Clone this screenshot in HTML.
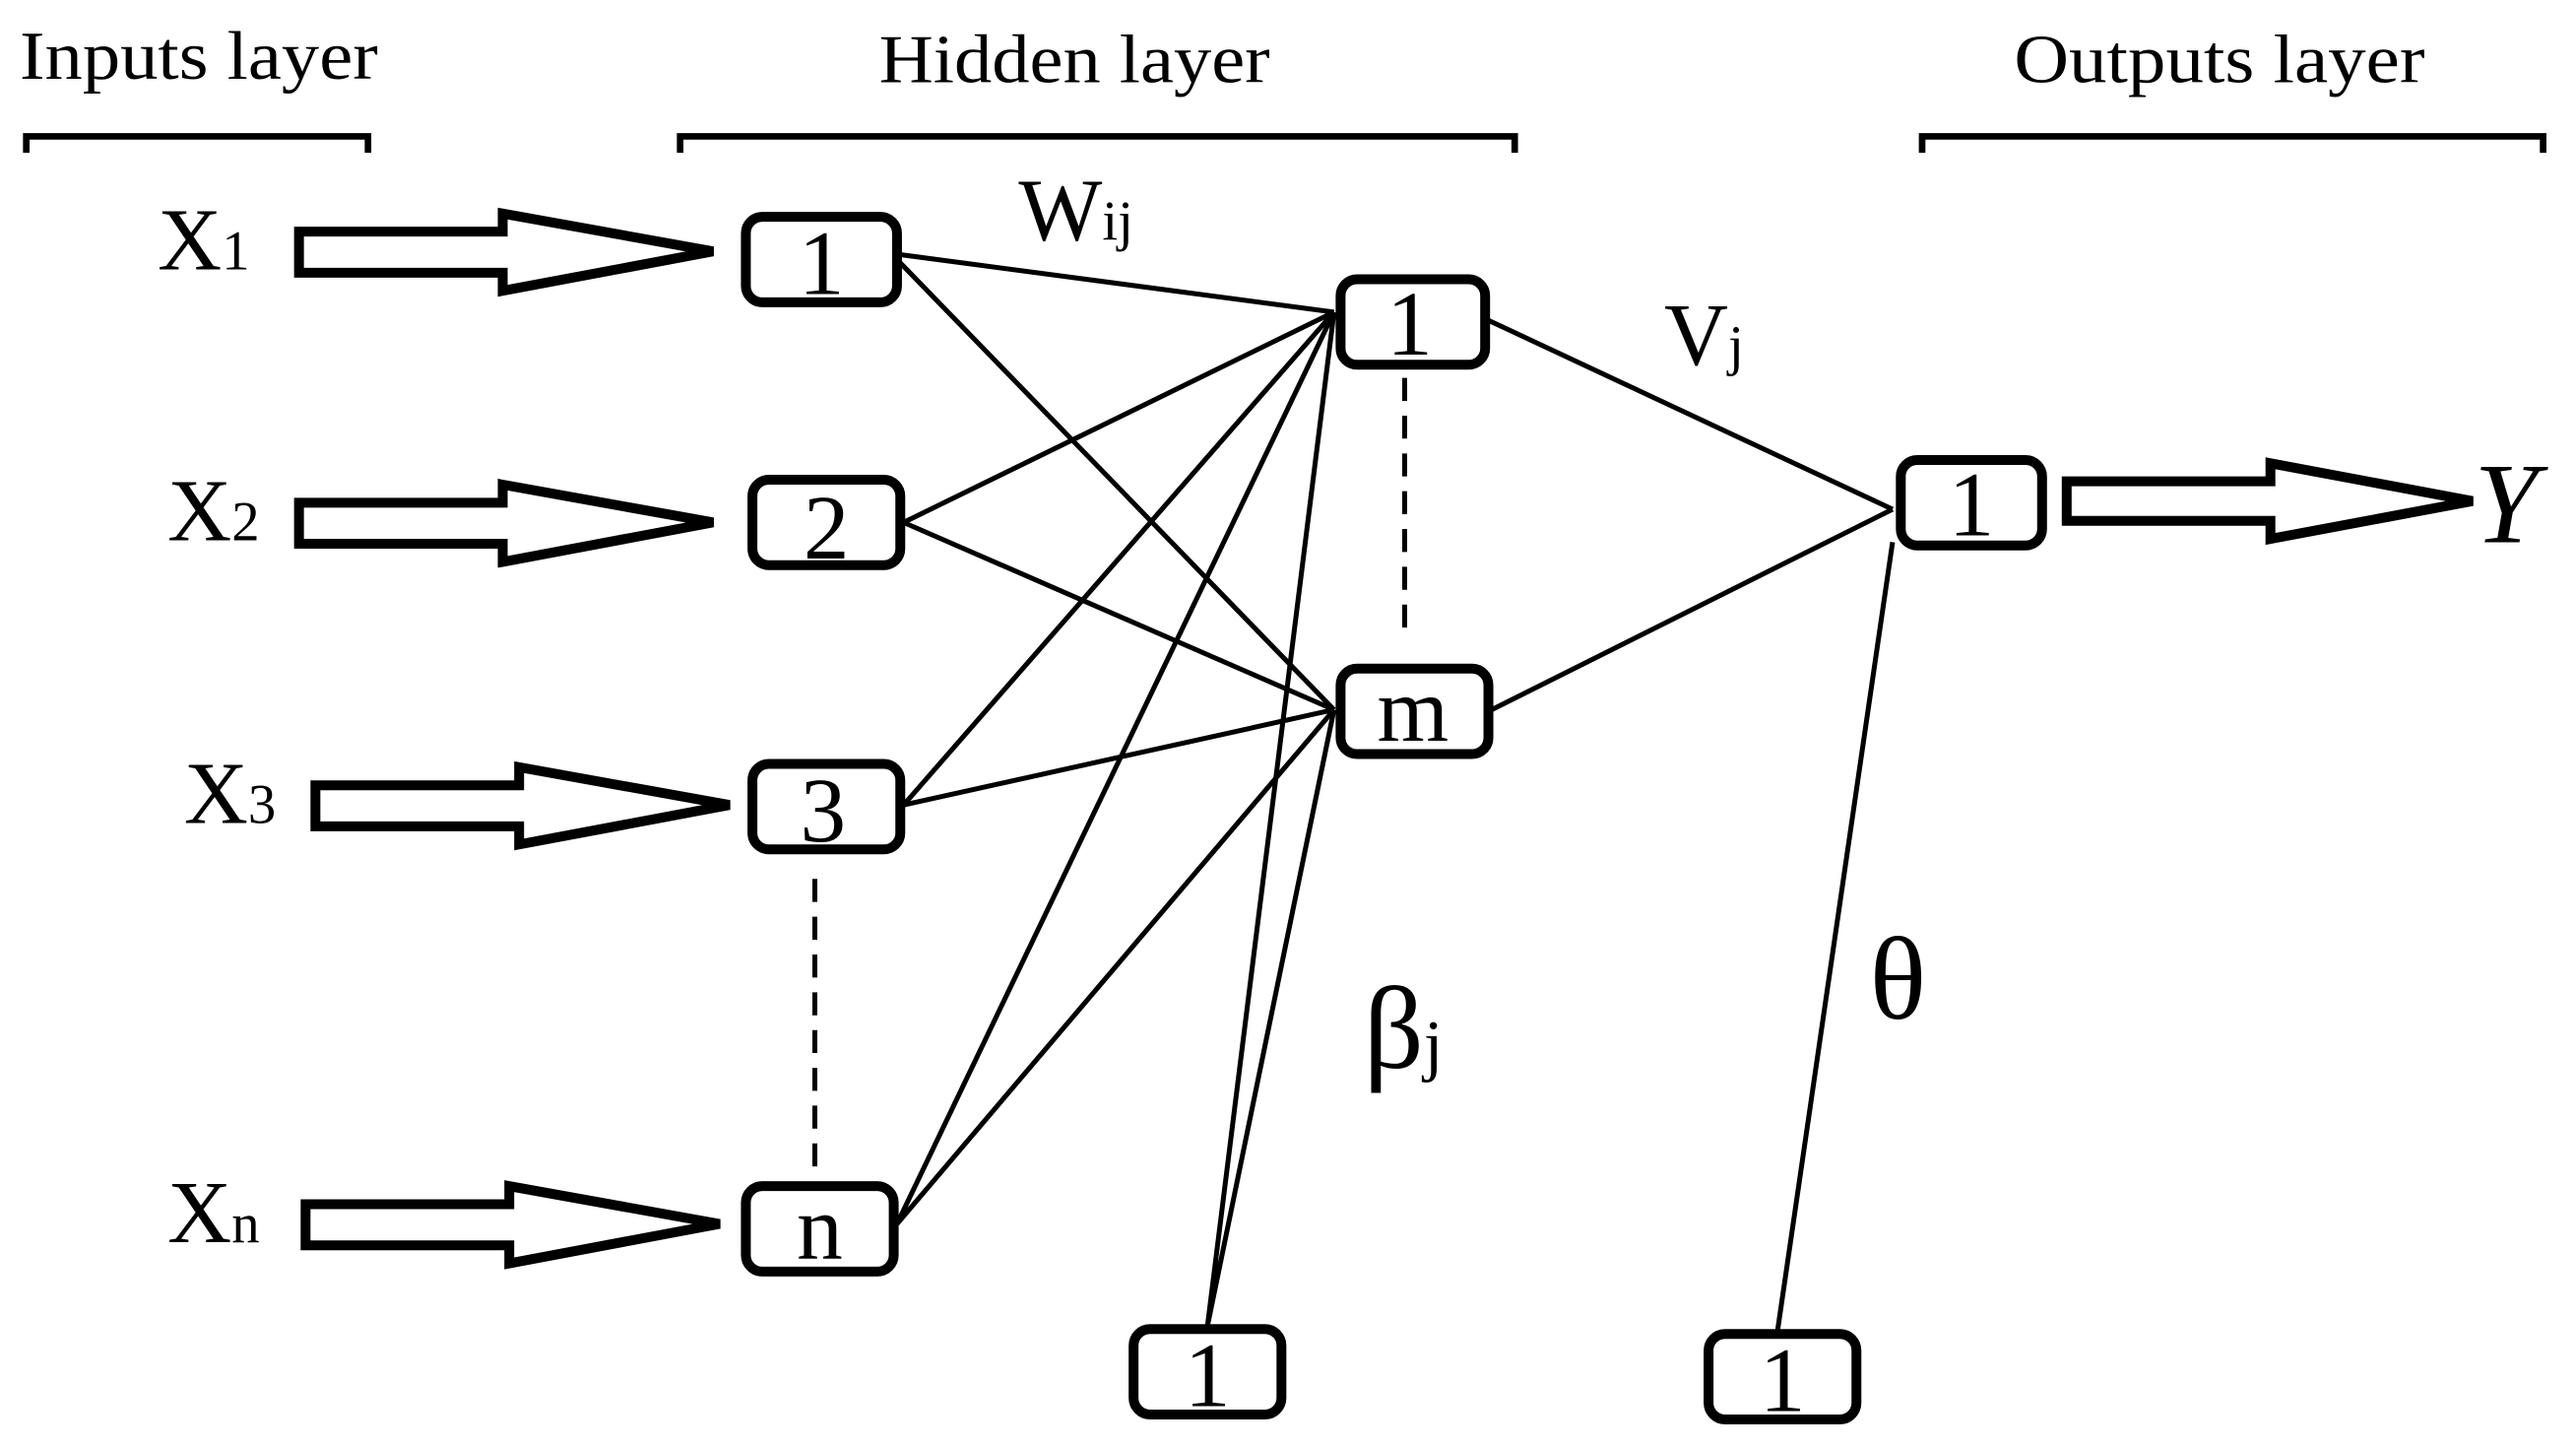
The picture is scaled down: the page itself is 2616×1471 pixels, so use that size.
<!DOCTYPE html>
<html><head><meta charset="utf-8"><style>
html,body{margin:0;padding:0;background:#fff;width:2616px;height:1471px;overflow:hidden}
svg{display:block}
text{font-family:"Liberation Serif",serif;fill:#000}
</style></head><body>
<svg width="2616" height="1471" viewBox="0 0 1568 882" preserveAspectRatio="none">
<g fill="none" stroke="#000" stroke-width="4">
<path d="M16 93V83H224V93"/>
<path d="M414 93V83H922V93"/>
<path d="M1170 93V83H1548V93"/>
</g>
<text x="12" y="48" font-size="42" textLength="218" lengthAdjust="spacingAndGlyphs">Inputs layer</text>
<text x="535" y="50" font-size="42" textLength="238" lengthAdjust="spacingAndGlyphs">Hidden layer</text>
<text x="1226" y="50" font-size="42" textLength="250" lengthAdjust="spacingAndGlyphs">Outputs layer</text>
<g stroke="#000" stroke-width="3" fill="none">
<path d="M548 155L812 190M548 160L812 432"/>
<path d="M550 318L812 190M550 318L812 432"/>
<path d="M550 490L812 190M550 490L812 432"/>
<path d="M546 745L812 190M546 745L812 432"/>
<path d="M735 807L812 190M735 807L812 432"/>
<path d="M906 195L1152 310M908 432L1152 310"/>
<path d="M1152 330L1082 810"/>
</g>
<g stroke="#000" stroke-width="3" stroke-dasharray="14,9">
<path d="M496 535V712"/><path d="M855 230V388"/>
</g>
<g fill="#fff" stroke="#000" stroke-width="6" stroke-linejoin="miter">
<path d="M182 141H306V130L434 153L306 177V166H182Z"/>
<path d="M182 306H306V295L434 318L306 342V331H182Z"/>
<path d="M192 478H316V467L444 490L316 514V503H192Z"/>
<path d="M186 733H310V722L438 745L310 769V758H186Z"/>
<path d="M1258 293H1382V282L1505 305L1382 328V317H1258Z"/>
</g>
<g fill="#fff" stroke="#000" stroke-width="6">
<rect x="454" y="132" width="92" height="52" rx="10"/>
<rect x="458" y="292" width="90" height="52" rx="10"/>
<rect x="458" y="465" width="90" height="52" rx="10"/>
<rect x="454" y="722" width="90" height="52" rx="10"/>
<rect x="816" y="170" width="88" height="52" rx="10"/>
<rect x="816" y="407" width="90" height="52" rx="10"/>
<rect x="1157" y="280" width="86" height="52" rx="10"/>
<rect x="690" y="809" width="90" height="52" rx="10"/>
<rect x="1040" y="812" width="90" height="52" rx="10"/>
</g>
<g font-size="56" text-anchor="middle">
<text x="500" y="179">1</text>
<text x="503" y="340">2</text>
<text x="501" y="512">3</text>
<text x="499" y="766">n</text>
<text x="858" y="216">1</text>
<text x="860" y="451">m</text>
<text x="1200" y="326">1</text>
<text x="735" y="856">1</text>
<text x="1085" y="859">1</text>
</g>
<text x="96" y="164" font-size="54">X<tspan font-size="34">1</tspan></text>
<text x="102" y="329" font-size="54">X<tspan font-size="34">2</tspan></text>
<text x="112" y="501" font-size="54">X<tspan font-size="34">3</tspan></text>
<text x="102" y="756" font-size="54">X<tspan font-size="34">n</tspan></text>
<text x="620" y="146" font-size="54">W<tspan font-size="34">ij</tspan></text>
<text x="1013" y="222" font-size="54">V<tspan font-size="34">j</tspan></text>
<text x="830" y="650" font-size="72">β<tspan font-size="42">j</tspan></text>
<text x="1138" y="620" font-size="72">θ</text>
<text x="1506" y="330" font-size="70" font-style="italic">Y</text>
</svg>
</body></html>
